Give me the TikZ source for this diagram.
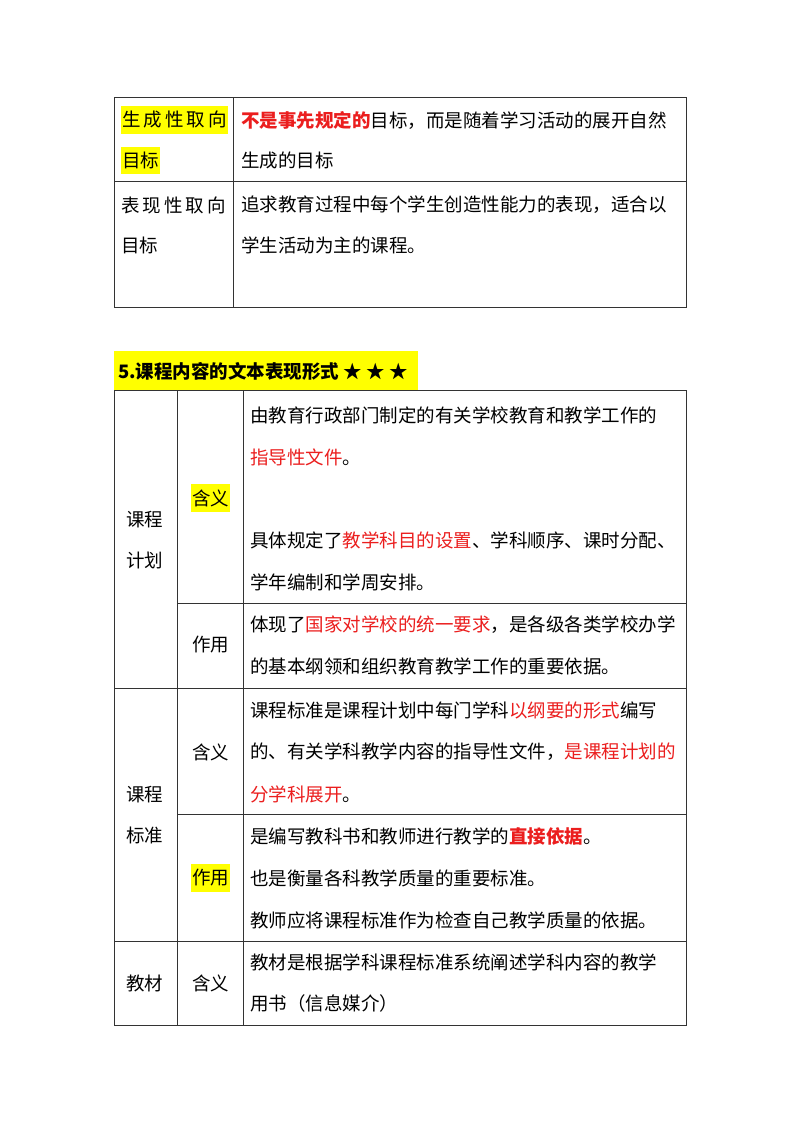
\documentclass[tikz,border=0pt]{standalone}
\usepackage{fontspec}
\setmainfont{Noto Sans CJK SC}
\definecolor{rd}{RGB}{235,30,30}
\definecolor{hy}{RGB}{255,255,0}
\tikzset{t/.style={anchor=west,inner sep=0pt,font=\fontsize{18.5}{22}\selectfont},
 hl/.style={t,fill=hy,inner xsep=1pt,inner ysep=5pt},
 gl/.style={line width=0.8pt,draw=black!80}}
\begin{document}
\begin{tikzpicture}[x=1pt,y=-1pt]
\useasboundingbox (0,0) rectangle (800,1132);
\fill[white] (0,0) rectangle (800,1132);
% table 1
\draw[gl] (114,97) rectangle (686,307);
\draw[gl] (114,181) -- (686,181) (233,97) -- (233,307);
\node[hl] (a1) at (121,120) {生\,成\,性\,取\,向};
\node[hl] (a2) at (121,160) {目标};
\node[t] (a3) at (241,120) {{\color{rd}\bfseries 不是事先规定的}目标，而是随着学习活动的展开自然};
\node[t] (a4) at (241,160) {生成的目标};
\node[t] (b1) at (121,205) {表\,现\,性\,取\,向};
\node[t] (b2) at (121,245) {目标};
\node[t] (b3) at (241,205) {追求教育过程中每个学生创造性能力的表现，适合以};
\node[t] (b4) at (241,245) {学生活动为主的课程。};
% heading
\fill[hy] (114,351) rectangle (418,390);
\node[t,font=\fontsize{18.5}{22}\selectfont\bfseries] (h) at (118,371) {5.课程内容的文本表现形式 ★ ★ ★};
% table 2
\draw[gl] (114,390) rectangle (686,1025);
\draw[gl] (114,688) -- (686,688) (114,941) -- (686,941)
 (177,603) -- (686,603) (177,814) -- (686,814)
 (177,390) -- (177,1025) (243,390) -- (243,1025);
\node[t] (c1) at (126,520) {课程};
\node[t] (c2) at (126,560) {计划};
\node[hl] (c3) at (191,498) {含义};
\node[t] (c4) at (250,415) {由教育行政部门制定的有关学校教育和教学工作的};
\node[t] (c5) at (250,457) {{\color{rd}指导性文件}。};
\node[t] (c6) at (250,540) {具体规定了{\color{rd}教学科目的设置}、学科顺序、课时分配、};
\node[t] (c7) at (250,582) {学年编制和学周安排。};
\node[t] (c8) at (192,645) {作用};
\node[t] (c9) at (250,625) {体现了{\color{rd}国家对学校的统一要求}，是各级各类学校办学};
\node[t] (c10) at (250,666) {的基本纲领和组织教育教学工作的重要依据。};
\node[t] (d1) at (126,795) {课程};
\node[t] (d2) at (126,835) {标准};
\node[t] (d3) at (192,752) {含义};
\node[t] (d4) at (250,710) {课程标准是课程计划中每门学科{\color{rd}以纲要的形式}编写};
\node[t] (d5) at (250,752) {的、有关学科教学内容的指导性文件，{\color{rd}是课程计划的}};
\node[t] (d6) at (250,794) {{\color{rd}分学科展开}。};
\node[hl] (d7) at (191,878) {作用};
\node[t] (d8) at (250,836) {是编写教科书和教师进行教学的{\color{rd}\bfseries 直接依据}。};
\node[t] (d9) at (250,878) {也是衡量各科教学质量的重要标准。};
\node[t] (d10) at (250,920) {教师应将课程标准作为检查自己教学质量的依据。};
\node[t] (e1) at (126,983) {教材};
\node[t] (e2) at (192,983) {含义};
\node[t] (e3) at (250,962) {教材是根据学科课程标准系统阐述学科内容的教学};
\node[t] (e4) at (250,1003) {用书（信息媒介）};
\end{tikzpicture}
\end{document}
